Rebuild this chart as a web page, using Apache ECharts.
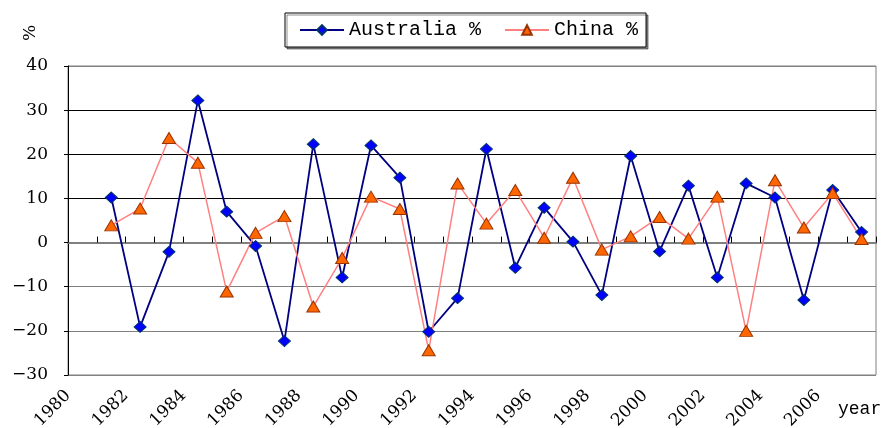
<!DOCTYPE html>
<html>
<head>
<meta charset="utf-8">
<title>Australia % / China %</title>
<script src="https://cdn.jsdelivr.net/npm/echarts@6/dist/echarts.min.js"></script>
<style>
  html, body { margin: 0; padding: 0; background: #fff; }
  #chart { width: 887px; height: 428px; }
</style>
</head>
<body>
<div id="chart"></div>
<script>
// Financial-year slots between the year ticks; the first slot has no data.
const periods = [
  '1980-81', '1981-82', '1982-83', '1983-84', '1984-85', '1985-86', '1986-87',
  '1987-88', '1988-89', '1989-90', '1990-91', '1991-92', '1992-93', '1993-94',
  '1994-95', '1995-96', '1996-97', '1997-98', '1998-99', '1999-00', '2000-01',
  '2001-02', '2002-03', '2003-04', '2004-05', '2005-06', '2006-07', '2007-08'
];

// Annual change, %
const australia = [
  null, 10.2, -19.1, -2.1, 32.2, 7.0, -0.8, -22.3, 22.3, -7.9, 22.0, 14.7, -20.2,
  -12.6, 21.2, -5.7, 7.9, 0.2, -11.9, 19.6, -2.0, 12.9, -7.9, 13.4, 10.2, -13.0,
  11.9, 2.4
];
const china = [
  null, 3.9, 7.7, 23.7, 18.1, -11.1, 2.2, 6.0, -14.5, -3.5, 10.4, 7.6, -24.4,
  13.4, 4.3, 11.9, 1.1, 14.7, -1.6, 1.4, 5.8, 0.9, 10.4, -20.0, 14.1, 3.4,
  11.2, 0.8
];

// Year tick labels along the bottom edge
const yearMin = 1980;
const yearMax = 2008;
const yearStep = 2;

// Percentage axis
const pctMin = -30;
const pctMax = 40;
const pctStep = 10;

const numFont = 'DejaVu Serif';
const monoFont = 'Liberation Mono';

const chart = echarts.init(document.getElementById('chart'), null, { renderer: 'canvas' });

chart.setOption({
  animation: false,
  backgroundColor: '#fff',
  grid: {
    left: 68, right: 11, top: 66, bottom: 53,
    show: true, borderColor: '#808080', borderWidth: 1, backgroundColor: '#fff',
    containLabel: false, outerBoundsMode: 'none'
  },
  legend: {
    left: 285, top: 13,
    padding: [7, 8, 7, 14],
    itemGap: 23, itemWidth: 44, itemHeight: 12,
    borderColor: '#000', borderWidth: 1, backgroundColor: '#fff',
    shadowColor: 'rgba(0,0,0,0.45)', shadowOffsetX: 2, shadowOffsetY: 2, shadowBlur: 0,
    textStyle: { fontFamily: monoFont, fontSize: 20, color: '#000' },
    data: ['Australia %', 'China %']
  },
  graphic: [{
    type: 'text', x: 31, y: 33, rotation: Math.PI / 2,
    style: { text: '%', fill: '#000', font: '17px "DejaVu Serif"', textAlign: 'center', textVerticalAlign: 'middle' }
  }],
  xAxis: [
    {
      type: 'category',
      data: periods,
      boundaryGap: true,
      position: 'bottom',
      axisLine: { show: true, onZero: true, lineStyle: { color: '#808080', width: 2 } },
      axisTick: { show: true, inside: true, length: 6, interval: 0, lineStyle: { color: '#000', width: 1 } },
      axisLabel: { show: false },
      splitLine: { show: false }
    },
    {
      type: 'value',
      min: yearMin, max: yearMax, interval: yearStep,
      position: 'bottom',
      axisLine: { show: false, onZero: false },
      axisTick: { show: false },
      splitLine: { show: false },
      axisLabel: {
        rotate: 45, margin: 18, showMaxLabel: false,
        fontFamily: numFont, fontSize: 17, color: '#000',
        formatter: v => String(v)
      },
      name: 'year',
      nameLocation: 'end',
      nameGap: -38,
      nameTextStyle: {
        fontFamily: monoFont, fontSize: 18, color: '#000',
        align: 'left', verticalAlign: 'top', padding: [25, 0, 0, 0]
      }
    }
  ],
  yAxis: {
    type: 'value',
    min: pctMin, max: pctMax, interval: pctStep,
    axisLine: { show: true, lineStyle: { color: '#000', width: 1 } },
    axisTick: { show: true, length: 4, lineStyle: { color: '#000' } },
    axisLabel: {
      margin: 20, fontFamily: numFont, fontSize: 17, color: '#000',
      formatter: v => String(v).replace('-', '\u2212')
    },
    splitLine: {
      show: true,
      lineStyle: {
        color: ['#808080', '#808080', '#808080', '#808080', '#000', '#000', '#000', '#808080'],
        width: 1
      }
    }
  },
  series: [
    {
      name: 'Australia %',
      type: 'line',
      xAxisIndex: 0,
      data: australia,
      symbol: 'diamond',
      symbolSize: [12, 11],
      showAllSymbol: true,
      lineStyle: { color: '#000080', width: 1.8 },
      itemStyle: { color: '#0000FF', borderColor: '#003366', borderWidth: 1 },
      connectNulls: false
    },
    {
      name: 'China %',
      type: 'line',
      xAxisIndex: 0,
      data: china,
      symbol: 'triangle',
      symbolSize: [13, 11],
      showAllSymbol: true,
      lineStyle: { color: '#FF8080', width: 1.5 },
      itemStyle: { color: '#FF6600', borderColor: '#993300', borderWidth: 1 },
      connectNulls: false
    }
  ]
});
</script>
</body>
</html>
